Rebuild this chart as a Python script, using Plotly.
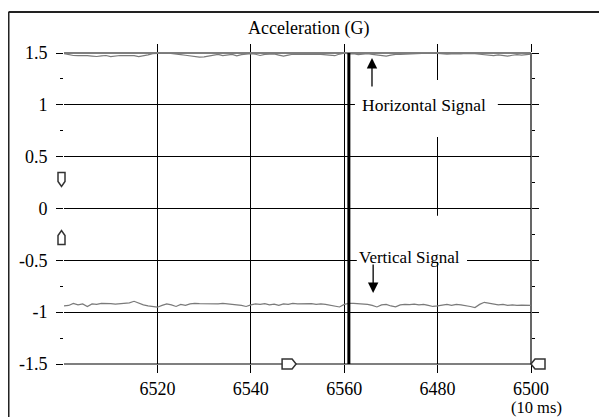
import plotly.graph_objects as go

# ---------------- data ----------------
sample_index = list(range(0, 101))  # position along the 10 ms time base
x_tick_positions = [20, 40, 60, 80, 100]
x_tick_labels = ["6520", "6540", "6560", "6480", "6500"]
x_unit_label = "(10 ms)"
y_tick_values = [-1.5, -1, -0.5, 0, 0.5, 1, 1.5]
y_tick_labels = ["-1.5", "-1", "-0.5", "0", "0.5", "1", "1.5"]
y_minor_values = [-1.25, -0.75, -0.25, 0.25, 0.75, 1.25]

horizontal_signal = [
    1.495, 1.485, 1.476, 1.475, 1.477, 1.474, 1.470, 1.466, 1.472, 1.476,
    1.466, 1.474, 1.476, 1.475, 1.477, 1.474, 1.466, 1.472, 1.482, 1.494,
    1.499, 1.498, 1.500, 1.497, 1.490, 1.484, 1.478, 1.470, 1.464, 1.460,
    1.463, 1.472, 1.482, 1.486, 1.474, 1.484, 1.487, 1.472, 1.485, 1.490,
    1.494, 1.488, 1.476, 1.486, 1.490, 1.491, 1.480, 1.470, 1.480, 1.488,
    1.487, 1.489, 1.484, 1.486, 1.488, 1.487, 1.482, 1.480, 1.474, 1.490,
    1.499, 1.492, 1.494, 1.484, 1.490, 1.493, 1.487, 1.480, 1.476, 1.470,
    1.480, 1.487, 1.486, 1.488, 1.487, 1.492, 1.498, 1.500, 1.499, 1.500,
    1.497, 1.491, 1.490, 1.492, 1.490, 1.491, 1.495, 1.497, 1.494, 1.488,
    1.484, 1.480, 1.474, 1.482, 1.476, 1.470, 1.478, 1.484, 1.480, 1.486, 1.490,
]

vertical_signal = [
    -0.940, -0.935, -0.915, -0.930, -0.920, -0.945, -0.920, -0.925, -0.915, -0.920,
    -0.918, -0.922, -0.920, -0.918, -0.910, -0.895, -0.915, -0.930, -0.940, -0.945,
    -0.952, -0.935, -0.920, -0.930, -0.945, -0.925, -0.935, -0.920, -0.915, -0.918,
    -0.920, -0.915, -0.918, -0.920, -0.915, -0.918, -0.925, -0.930, -0.935, -0.945,
    -0.930, -0.920, -0.925, -0.918, -0.930, -0.922, -0.935, -0.920, -0.925, -0.915,
    -0.920, -0.918, -0.922, -0.918, -0.925, -0.920, -0.925, -0.935, -0.945, -0.950,
    -0.925, -0.915, -0.915, -0.918, -0.915, -0.925, -0.935, -0.950, -0.930, -0.925,
    -0.940, -0.948, -0.930, -0.925, -0.928, -0.922, -0.930, -0.925, -0.935, -0.945,
    -0.940, -0.930, -0.925, -0.935, -0.925, -0.930, -0.935, -0.945, -0.955, -0.925,
    -0.905, -0.915, -0.920, -0.930, -0.925, -0.935, -0.930, -0.935, -0.932, -0.930, -0.935,
]

cursor_position = 61.0
left_marker_levels = [0.28, -0.28]
bottom_marker_position = 48.2
end_marker_position = 100

title_text = "Acceleration (G)"
horizontal_label = "Horizontal Signal"
vertical_label = "Vertical Signal"

# ---------------- figure ----------------
SERIF = "Liberation Serif, Times New Roman, serif"
INK = "#000000"
X_RANGE = [0, 100]
Y_RANGE = [-1.5, 1.5]


def xp(v):
    return (v - X_RANGE[0]) / (X_RANGE[1] - X_RANGE[0])


def yp(v):
    return (v - Y_RANGE[0]) / (Y_RANGE[1] - Y_RANGE[0])


fig = go.Figure()
fig.add_trace(go.Scatter(x=sample_index, y=horizontal_signal, mode="lines",
                         line=dict(color="#7a7a7a", width=1.2), hoverinfo="skip"))
fig.add_trace(go.Scatter(x=sample_index, y=vertical_signal, mode="lines",
                         line=dict(color="#7a7a7a", width=1.2), hoverinfo="skip"))

GRID_W = 1.2
shapes = []
# white label boxes that interrupt the grid
shapes.append(dict(type="rect", xref="x", yref="y", x0=62.3, x1=92.9, y0=0.69, y1=1.24,
                   fillcolor="white", line=dict(width=0), layer="between"))
shapes.append(dict(type="rect", xref="x", yref="y", x0=62.7, x1=86.3, y0=-0.515, y1=-0.07,
                   fillcolor="white", line=dict(width=0), layer="between"))
# grid lines that sit exactly on the plot edges
shapes.append(dict(type="line", xref="paper", yref="paper", x0=0, x1=1,
                   y0=yp(Y_RANGE[1]), y1=yp(Y_RANGE[1]), line=dict(color=INK, width=GRID_W),
                   layer="below"))
shapes.append(dict(type="line", xref="paper", yref="paper", x0=0, x1=1,
                   y0=yp(Y_RANGE[0]), y1=yp(Y_RANGE[0]), line=dict(color=INK, width=GRID_W),
                   layer="below"))
shapes.append(dict(type="line", xref="paper", yref="paper", x0=xp(100), x1=xp(100),
                   y0=0, y1=1, line=dict(color=INK, width=GRID_W), layer="below"))
# cursor
shapes.append(dict(type="line", xref="x", yref="y", x0=cursor_position, x1=cursor_position,
                   y0=-1.5, y1=1.5, line=dict(color=INK, width=3)))
# trigger markers
down_house = "M -6,7 L 1,7 L 1,-2 L -2.5,-7 L -6,-2 Z"
up_house = "M -6,-7 L 1,-7 L 1,2 L -2.5,7 L -6,2 Z"
for lvl, p in zip(left_marker_levels, [down_house, up_house]):
    shapes.append(dict(type="path", xref="paper", yref="paper", xsizemode="pixel",
                       ysizemode="pixel", xanchor=0, yanchor=yp(lvl), path=p,
                       fillcolor="white", line=dict(color="#333", width=1.5)))
shapes.append(dict(type="path", xref="paper", yref="paper", xsizemode="pixel", ysizemode="pixel",
                   xanchor=xp(bottom_marker_position), yanchor=0,
                   path="M -7,5 L 3,5 L 7,0 L 3,-5 L -7,-5 Z",
                   fillcolor="white", line=dict(color="#333", width=1.5)))
shapes.append(dict(type="path", xref="paper", yref="paper", xsizemode="pixel", ysizemode="pixel",
                   xanchor=xp(end_marker_position), yanchor=0,
                   path="M 0,0 L 4,5 L 14,5 L 14,-5 L 4,-5 Z",
                   fillcolor="white", line=dict(color="#333", width=1.5)))
# outer frame (left and top edges)
shapes.append(dict(type="line", xref="paper", yref="paper", x0=-0.1188, x1=-0.1188,
                   y0=1.1318, y1=-0.3, line=dict(color="#222", width=2)))
shapes.append(dict(type="line", xref="paper", yref="paper", x0=-0.1188, x1=1.3,
                   y0=1.1318, y1=1.1318, line=dict(color="#222", width=2)))

annotations = [
    dict(text=title_text, xref="paper", yref="paper", x=0.5246, y=1.08, showarrow=False,
         font=dict(family=SERIF, size=18, color=INK), xanchor="center", yanchor="middle"),
    dict(text=horizontal_label, xref="x", yref="y", x=77.1, y=1.0, showarrow=False,
         font=dict(family=SERIF, size=17.5, color=INK), xanchor="center", yanchor="middle"),
    dict(text=vertical_label, xref="x", yref="y", x=73.9, y=-0.47, showarrow=False,
         font=dict(family=SERIF, size=17, color=INK), xanchor="center", yanchor="middle"),
    dict(text=x_unit_label, xref="paper", yref="paper", x=1.0128, y=-0.139, showarrow=False,
         font=dict(family=SERIF, size=16.5, color=INK), xanchor="center", yanchor="middle",
         borderpad=0),
    dict(text="", xref="x", yref="y", x=65.95, y=1.452, ax=65.95, ay=1.163,
         axref="x", ayref="y", showarrow=True, arrowhead=2, arrowsize=1.6,
         arrowwidth=1.3, arrowcolor=INK),
    dict(text="", xref="x", yref="y", x=66.2, y=-0.814, ax=66.2, ay=-0.525,
         axref="x", ayref="y", showarrow=True, arrowhead=2, arrowsize=1.6,
         arrowwidth=1.3, arrowcolor=INK),
]

# the page body adds an 8px offset, so the figure is 8px smaller than the window
fig.update_layout(
    width=599, height=409,
    margin=dict(l=56, r=76, t=45, b=53, autoexpand=False),
    paper_bgcolor="white", plot_bgcolor="white",
    showlegend=False,
    shapes=shapes, annotations=annotations,
    font=dict(family=SERIF, size=18, color=INK),
)
fig.update_xaxes(
    range=X_RANGE, tickmode="array", tickvals=x_tick_positions, ticktext=x_tick_labels,
    showgrid=True, gridcolor=INK, gridwidth=GRID_W, zeroline=False, showline=False,
    ticks="outside", ticklen=8, tickwidth=GRID_W, tickcolor=INK, mirror="ticks",
    tickfont=dict(family=SERIF, size=18, color=INK), automargin=False,
)
fig.update_yaxes(
    range=Y_RANGE, tickmode="array", tickvals=y_tick_values, ticktext=y_tick_labels,
    showgrid=True, gridcolor=INK, gridwidth=GRID_W, zeroline=False, showline=False,
    ticks="outside", ticklen=7, tickwidth=GRID_W, tickcolor=INK, mirror="ticks",
    tickfont=dict(family=SERIF, size=18, color=INK), automargin=False,
    ticklabelstandoff=5,
    minor=dict(tickmode="array", tickvals=y_minor_values, ticks="outside", ticklen=3,
               tickcolor=INK, tickwidth=1, showgrid=False),
)

fig.write_html("out.html")
